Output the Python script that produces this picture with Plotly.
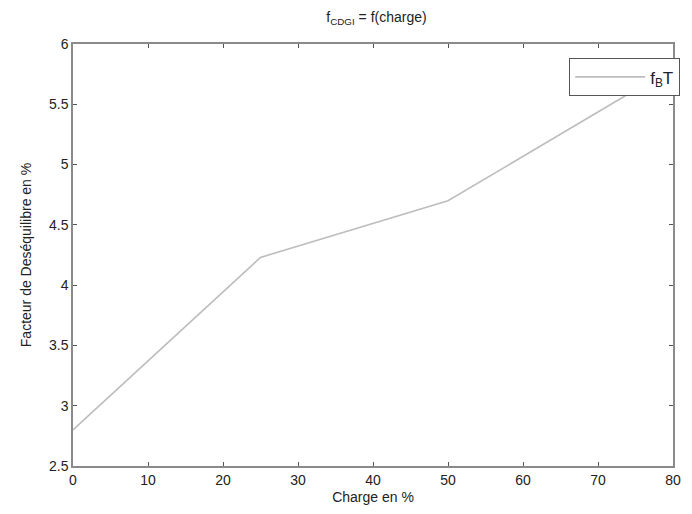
import plotly.graph_objects as go

# Load level (%) and corresponding unbalance factor (%)
charge = [0, 25, 50, 75, 80]
facteur = [2.8, 4.23, 4.7, 5.62, 5.78]

x_ticks = [0, 10, 20, 30, 40, 50, 60, 70, 80]
y_ticks = [2.5, 3, 3.5, 4, 4.5, 5, 5.5, 6]
y_tick_text = ["2.5", "3", "3.5", "4", "4.5", "5", "5.5", "6"]

font_family = "Liberation Sans, Arial, sans-serif"
axis_color = "#8a8a8a"

fig = go.Figure()
fig.add_trace(go.Scatter(
    x=charge, y=facteur, mode="lines",
    name="f<sub>B</sub>T",
    line=dict(color="#bdbdbd", width=1.6),
))

axis_common = dict(
    showgrid=False, zeroline=False,
    showline=True, linecolor=axis_color, linewidth=1.5, mirror="ticks",
    ticks="inside", ticklen=4, tickcolor="#555555", tickwidth=1,
    tickfont=dict(family=font_family, size=14, color="#222222"),
)

fig.update_layout(
    width=692, height=514,
    margin=dict(l=73, r=12, t=44, b=48),
    paper_bgcolor="white", plot_bgcolor="white",
    font=dict(family=font_family, color="#222222"),
    title=dict(
        text="f<sub>CDGI</sub> = f(charge)",
        x=(73 + 680) / 2 / 692, xanchor="center",
        y=1 - 17 / 514, yanchor="middle",
        font=dict(family=font_family, size=14, color="#222222"),
    ),
    xaxis=dict(
        range=[0, 80], tickvals=x_ticks,
        title=dict(text="Charge en %", font=dict(size=14), standoff=6),
        **axis_common,
    ),
    yaxis=dict(
        range=[2.5, 6], tickvals=y_ticks, ticktext=y_tick_text,
        title=dict(text="Facteur de Deséquilibre en %", font=dict(size=14), standoff=14),
        **axis_common,
    ),
    showlegend=True,
    legend=dict(
        x=1.012, y=0.966, xanchor="right", yanchor="top",
        bgcolor="white", bordercolor="#555555", borderwidth=1,
        font=dict(family=font_family, size=17, color="#222222"),
        itemwidth=70,
    ),
)

fig.write_html("out.html")
